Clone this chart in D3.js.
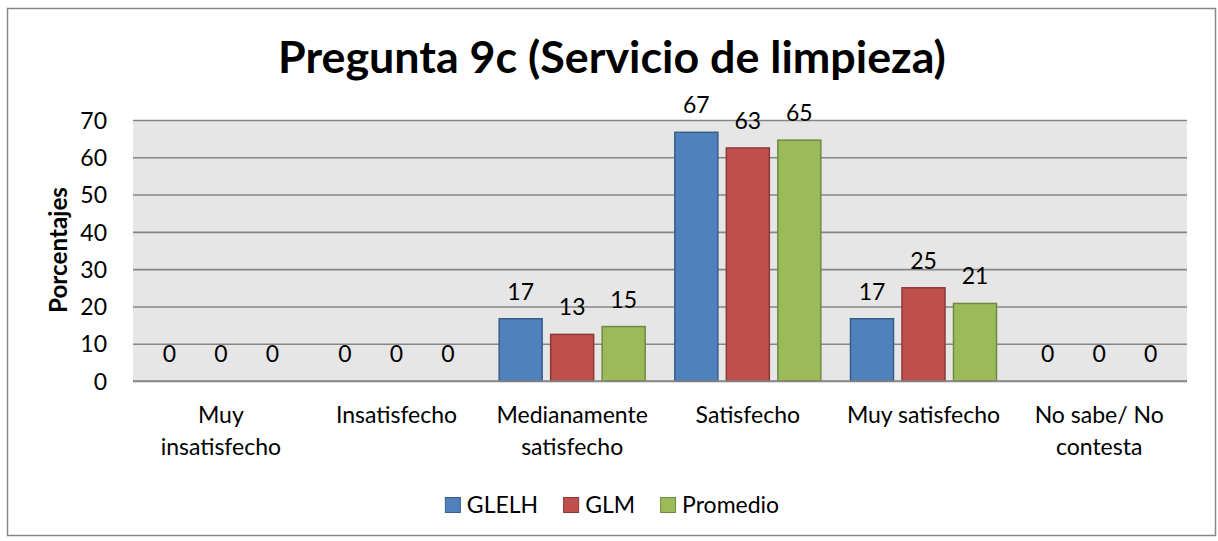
<!DOCTYPE html>
<html>
<head>
<meta charset="utf-8">
<script src="https://cdn.jsdelivr.net/npm/d3@7"></script>
<style>
  body { margin: 0; background: #fff; }
  text { font-family: Lato, "Open Sans", sans-serif; fill: #000; }
</style>
</head>
<body>
<script>
const categories = ["Muy\ninsatisfecho", "Insatisfecho", "Medianamente\nsatisfecho", "Satisfecho", "Muy satisfecho", "No sabe/ No\ncontesta"];
const seriesNames = ["GLELH", "GLM", "Promedio"];
const glelh = [0, 0, 16.7, 66.7, 16.7, 0];
const glm = [0, 0, 12.5, 62.5, 25, 0];
const promedio = [0, 0, 14.6, 64.6, 20.8, 0];
const yTicks = [0, 10, 20, 30, 40, 50, 60, 70];

const fills = ["#4f81bd", "#c0504d", "#9bbb59"];
const strokes = ["#385d8a", "#8c3836", "#71893f"];
const fontSize = 23;

const width = 1218, height = 541;
const plot = { left: 133, right: 1187, top: 120, bottom: 381 };

let svg = d3.select("body")
  .append("svg")
  .attr("width", width)
  .attr("height", height);

// chart border
svg.append("rect")
  .attr("x", 7.5).attr("y", 8.5)
  .attr("width", 1208).attr("height", 527)
  .attr("fill", "#fff")
  .attr("stroke", "#868686")
  .attr("stroke-width", 1.5);

const y = d3.scaleLinear()
  .domain([0, 70])
  .range([plot.bottom, plot.top]);

const x0 = d3.scaleBand()
  .domain(categories)
  .range([plot.left, plot.right]);

const x1 = d3.scaleBand()
  .domain(seriesNames)
  .range([0, x0.bandwidth()])
  .paddingInner(0.165)
  .paddingOuter(0.288);

// plot background
svg.append("rect")
  .attr("x", plot.left).attr("y", plot.top)
  .attr("width", plot.right - plot.left)
  .attr("height", plot.bottom - plot.top)
  .attr("fill", "#e6e6e6");

// y axis with gridlines
let yAxis = svg.append("g")
  .attr("transform", "translate(" + plot.left + ",0)")
  .call(d3.axisLeft(y)
    .tickValues(yTicks)
    .tickSize(-(plot.right - plot.left))
    .tickPadding(26));
yAxis.select(".domain").remove();
yAxis.selectAll("line")
  .attr("stroke", "#868686")
  .attr("stroke-width", 1.6);
yAxis.selectAll("text")
  .attr("dy", "0.36em")
  .style("font-size", fontSize + "px")
  .style("font-family", "Lato, 'Open Sans', sans-serif");

// bars
const rows = categories.map((c, i) => ({ cat: c, values: [glelh[i], glm[i], promedio[i]] }));

let group = svg.selectAll(".cat")
  .data(rows)
  .enter()
  .append("g")
  .attr("class", "cat")
  .attr("transform", d => "translate(" + x0(d.cat) + ",0)");

let bar = group.selectAll(".bar")
  .data(d => d.values.map((v, j) => ({ name: seriesNames[j], value: v, j: j })))
  .enter();

bar.filter(d => d.value > 0)
  .append("rect")
  .attr("x", d => x1(d.name))
  .attr("y", d => y(d.value))
  .attr("width", x1.bandwidth())
  .attr("height", d => y(0) - y(d.value))
  .attr("fill", d => fills[d.j])
  .attr("stroke", d => strokes[d.j])
  .attr("stroke-width", 1.5);

bar.append("text")
  .attr("x", d => x1(d.name) + x1.bandwidth() / 2)
  .attr("y", d => y(d.value) - 19)
  .attr("text-anchor", "middle")
  .style("font-size", fontSize + "px")
  .text(d => Math.round(d.value));

// redraw baseline over bars
svg.append("line")
  .attr("x1", plot.left).attr("x2", plot.right)
  .attr("y1", y(0)).attr("y2", y(0))
  .attr("stroke", "#868686")
  .attr("stroke-width", 1.6);

// category labels
let catLabel = svg.selectAll(".catlabel")
  .data(categories)
  .enter()
  .append("text")
  .attr("class", "catlabel")
  .attr("text-anchor", "middle")
  .style("font-size", fontSize + "px");
catLabel.selectAll("tspan")
  .data(d => d.split("\n").map(s => ({ s: s, cat: d })))
  .enter()
  .append("tspan")
  .attr("x", d => x0(d.cat) + x0.bandwidth() / 2)
  .attr("y", (d, i) => 423 + i * 32)
  .text(d => d.s);

// title
let title = svg.append("text")
  .attr("x", 612)
  .attr("y", 73)
  .attr("text-anchor", "middle")
  .style("font-size", "42px")
  .style("font-weight", "bold")
  .text("Pregunta 9c (Servicio de limpieza)");
const tw = title.node().getComputedTextLength();
title.style("font-size", (42 * 668 / tw) + "px");

// y axis title
let ytitle = svg.append("text")
  .attr("transform", "translate(67,250) rotate(-90)")
  .attr("text-anchor", "middle")
  .style("font-size", "21px")
  .style("font-weight", "bold")
  .text("Porcentajes");
const aw = ytitle.node().getComputedTextLength();
ytitle.style("font-size", (21 * 126 / aw) + "px");

// legend
let legend = svg.append("g");
let cursor = 0;
seriesNames.forEach((name, j) => {
  let item = legend.append("g").attr("transform", "translate(" + cursor + ",0)");
  item.append("rect")
    .attr("x", 0.5).attr("y", 497.5)
    .attr("width", 15).attr("height", 15)
    .attr("fill", fills[j])
    .attr("stroke", strokes[j])
    .attr("stroke-width", 1);
  let t = item.append("text")
    .attr("x", 22)
    .attr("y", 513)
    .style("font-size", fontSize + "px")
    .text(name);
  cursor += 22 + t.node().getComputedTextLength() + 25;
});
const legendWidth = cursor - 25;
legend.attr("transform", "translate(" + (612 - legendWidth / 2) + ",0)");
</script>
</body>
</html>
